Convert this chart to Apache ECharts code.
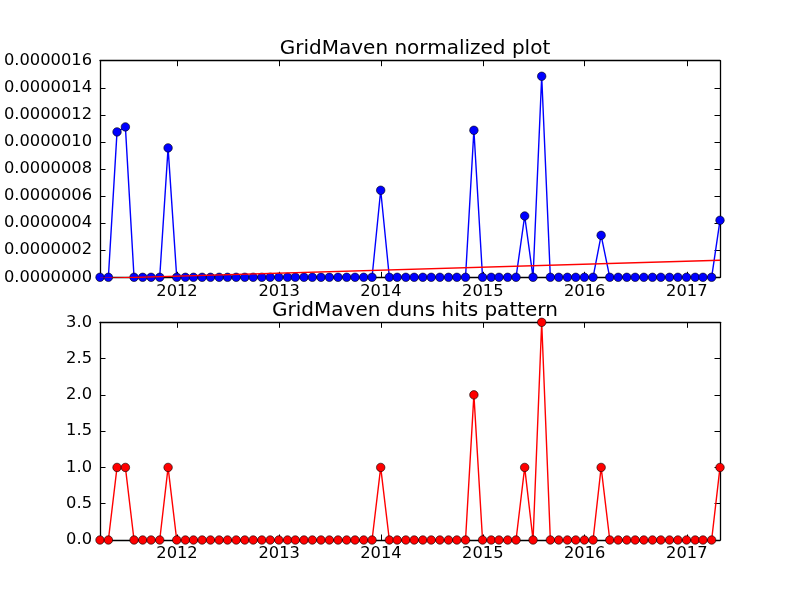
<!DOCTYPE html>
<html>
<head>
<meta charset="utf-8">
<script src="https://cdn.jsdelivr.net/npm/echarts@6/dist/echarts.min.js"></script>
<style>
html,body{margin:0;padding:0;background:#fff;}
#chart{width:800px;height:600px;}
</style>
</head>
<body>
<div id="chart"></div>
<script>
// Month-end sample dates (2011-03 .. 2017-04)
const dates = [
 '2011-03-31','2011-04-30','2011-05-31','2011-06-30','2011-07-31','2011-08-31','2011-09-30','2011-10-31','2011-11-30','2011-12-31',
 '2012-01-31','2012-02-29','2012-03-31','2012-04-30','2012-05-31','2012-06-30','2012-07-31','2012-08-31','2012-09-30','2012-10-31','2012-11-30','2012-12-31',
 '2013-01-31','2013-02-28','2013-03-31','2013-04-30','2013-05-31','2013-06-30','2013-07-31','2013-08-31','2013-09-30','2013-10-31','2013-11-30','2013-12-31',
 '2014-01-31','2014-02-28','2014-03-31','2014-04-30','2014-05-31','2014-06-30','2014-07-31','2014-08-31','2014-09-30','2014-10-31','2014-11-30','2014-12-31',
 '2015-01-31','2015-02-28','2015-03-31','2015-04-30','2015-05-31','2015-06-30','2015-07-31','2015-08-31','2015-09-30','2015-10-31','2015-11-30','2015-12-31',
 '2016-01-31','2016-02-29','2016-03-31','2016-04-30','2016-05-31','2016-06-30','2016-07-31','2016-08-31','2016-09-30','2016-10-31','2016-11-30','2016-12-31',
 '2017-01-31','2017-02-28','2017-03-31','2017-04-30'
];
// Normalized values (x1e-6)
const normalized = [
 0,0,1.074,1.111,0,0,0,0,0.956,0,
 0,0,0,0,0,0,0,0,0,0,0,0,
 0,0,0,0,0,0,0,0,0,0,0,0.643,
 0,0,0,0,0,0,0,0,0,0,1.086,0,
 0,0,0,0,0.453,0,1.485,0,0,0,0,0,
 0,0.310,0,0,0,0,0,0,0,0,0,0,
 0,0,0,0.421
];
// Duns hits per month
const hits = [
 0,0,1,1,0,0,0,0,1,0,
 0,0,0,0,0,0,0,0,0,0,0,0,
 0,0,0,0,0,0,0,0,0,0,0,1,
 0,0,0,0,0,0,0,0,0,0,2,0,
 0,0,0,0,1,0,3,0,0,0,0,0,
 0,1,0,0,0,0,0,0,0,0,0,0,
 0,0,0,1
];
// Trend line end values (x1e-6)
const trendEnds = [-0.008, 0.126];
const titles = ['GridMaven normalized plot', 'GridMaven duns hits pattern'];
const topTicks = ['0.0000000','0.0000002','0.0000004','0.0000006','0.0000008','0.0000010','0.0000012','0.0000014','0.0000016'];
const bottomTicks = ['0.0','0.5','1.0','1.5','2.0','2.5','3.0'];

const FONT = 'DejaVu Sans';
const grids = [
  {left:100, top:60.7, width:620, height:216.6},
  {left:100, top:322.3, width:620, height:217.7}
];
const xMin = dates[0], xMax = dates[dates.length-1];
function xAx(gi, pos, labels){
  return {
    type:'time', gridIndex:gi, position:pos, min:xMin, max:xMax,
    splitNumber:6,
    axisLine:{show:true, onZero:false, lineStyle:{color:'#000', width:1.3}},
    axisTick:{show:true, inside:true, length:5.5, lineStyle:{color:'#000', width:1}},
    splitLine:{show:false},
    axisLabel:{show:labels, color:'#000', fontFamily:FONT, fontSize:16.3, margin:6,
      showMinLabel:false, showMaxLabel:false, hideOverlap:false,
      formatter:function(v){ return String(new Date(v).getFullYear()); }}
  };
}
function yAx(gi, pos, labels, max, interval, ticks){
  return {
    type:'value', gridIndex:gi, position:pos, min:0, max:max, interval:interval,
    axisLine:{show:true, onZero:false, lineStyle:{color:'#000', width:1.3}},
    axisTick:{show:true, inside:true, length:5.5, lineStyle:{color:'#000', width:1}},
    splitLine:{show:false},
    axisLabel:{show:labels, color:'#000', fontFamily:FONT, fontSize:16.3, margin:8,
      formatter:function(v){ return ticks[Math.round(v/interval)]; }}
  };
}
const normData = dates.map((d,i)=>[d, normalized[i]*1e-6]);
const hitData = dates.map((d,i)=>[d, hits[i]]);
const trendData = [[dates[0], trendEnds[0]*1e-6],[dates[dates.length-1], trendEnds[1]*1e-6]];

const chart = echarts.init(document.getElementById('chart'), null, {renderer:'canvas'});
chart.setOption({
  animation:false,
  backgroundColor:'#fff',
  title:[
    {text:titles[0], left:410, top:34, textAlign:'center', textStyle:{fontFamily:FONT, fontSize:20, fontWeight:'normal', color:'#000'}},
    {text:titles[1], left:410, top:296, textAlign:'center', textStyle:{fontFamily:FONT, fontSize:20, fontWeight:'normal', color:'#000'}}
  ],
  grid:grids,
  xAxis:[xAx(0,'bottom',true), xAx(0,'top',false), xAx(1,'bottom',true), xAx(1,'top',false)],
  yAxis:[
    yAx(0,'left',true,1.6e-6,0.2e-6,topTicks), yAx(0,'right',false,1.6e-6,0.2e-6,topTicks),
    yAx(1,'left',true,3,0.5,bottomTicks), yAx(1,'right',false,3,0.5,bottomTicks)
  ],
  series:[
    {type:'line', xAxisIndex:0, yAxisIndex:0, data:normData, symbol:'circle', symbolSize:8.5,
      showAllSymbol:true, clip:false,
      lineStyle:{color:'#0000ff', width:1.4}, itemStyle:{color:'#0000ff', borderColor:'#000', borderWidth:0.6}, z:2},
    {type:'line', xAxisIndex:0, yAxisIndex:0, data:trendData, symbol:'none', clip:true,
      lineStyle:{color:'#ff0000', width:1.4}, z:3},
    {type:'line', xAxisIndex:2, yAxisIndex:2, data:hitData, symbol:'circle', symbolSize:8.5,
      showAllSymbol:true, clip:false,
      lineStyle:{color:'#ff0000', width:1.4}, itemStyle:{color:'#ff0000', borderColor:'#000', borderWidth:0.6}, z:2}
  ]
});
</script>
</body>
</html>
